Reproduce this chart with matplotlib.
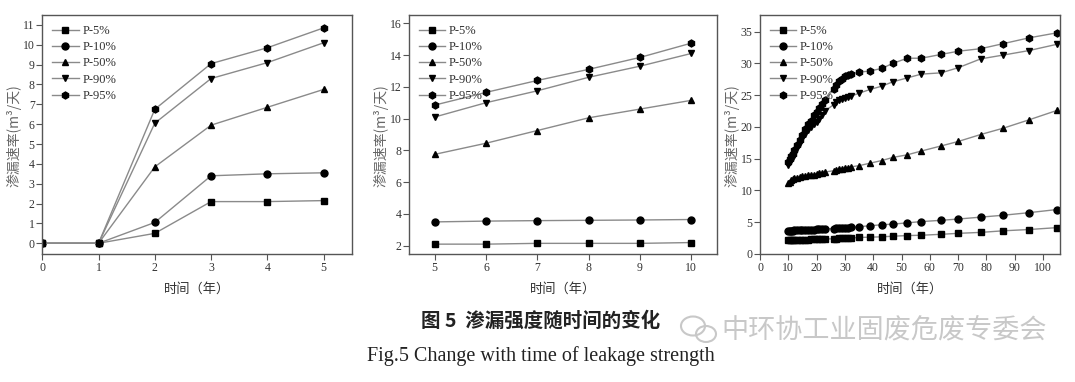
import matplotlib
matplotlib.use("Agg")
import matplotlib.pyplot as plt
from matplotlib.patches import Ellipse

plt.rcParams['font.family'] = ['Liberation Serif', 'Noto Sans CJK SC']

labels = ['P-5%', 'P-10%', 'P-50%', 'P-90%', 'P-95%']
markers = ['s', 'o', '^', 'v', 'h']

# panel 1: years 0-5
x1 = [0, 1, 2, 3, 4, 5]
p5_a = [0, 0, 0.5, 2.1, 2.1, 2.15]
p10_a = [0, 0, 1.05, 3.4, 3.5, 3.55]
p50_a = [0, 0, 3.85, 5.95, 6.85, 7.75]
p90_a = [0, 0, 6.05, 8.3, 9.1, 10.1]
p95_a = [0, 0, 6.75, 9.05, 9.85, 10.85]

# panel 2: years 5-10
x2 = [5, 6, 7, 8, 9, 10]
p5_b = [2.1, 2.1, 2.15, 2.15, 2.15, 2.2]
p10_b = [3.5, 3.55, 3.58, 3.6, 3.62, 3.65]
p50_b = [7.75, 8.45, 9.25, 10.05, 10.6, 11.15]
p90_b = [10.1, 11.0, 11.75, 12.6, 13.3, 14.1]
p95_b = [10.85, 11.65, 12.4, 13.1, 13.85, 14.75]

# panel 3: years 10-105
x3 = [10, 10.5, 11, 11.5, 12, 13, 14, 15, 16, 17, 18, 19, 20, 21, 22, 23,
      26, 27, 28, 29, 30, 31, 32, 35, 39, 43, 47, 52, 57, 64, 70, 78, 86, 95, 105]
p5_c = [2.15, 2.15, 2.15, 2.2, 2.2, 2.2, 2.2, 2.2, 2.25, 2.25, 2.3, 2.3, 2.3, 2.35, 2.35, 2.35,
        2.4, 2.4, 2.45, 2.45, 2.45, 2.5, 2.5, 2.6, 2.65, 2.7, 2.8, 2.9, 2.95, 3.1, 3.25, 3.4, 3.65, 3.85, 4.15]
p10_c = [3.6, 3.6, 3.65, 3.65, 3.7, 3.7, 3.75, 3.75, 3.8, 3.8, 3.85, 3.85, 3.9, 3.9, 3.95, 3.95,
         4.0, 4.05, 4.05, 4.1, 4.1, 4.15, 4.2, 4.3, 4.45, 4.6, 4.7, 4.9, 5.1, 5.3, 5.5, 5.8, 6.1, 6.5, 7.0]
p50_c = [11.1, 11.4, 11.6, 11.8, 11.9, 12.0, 12.1, 12.2, 12.3, 12.4, 12.5, 12.5, 12.6, 12.7, 12.8, 12.9,
         13.1, 13.2, 13.3, 13.4, 13.5, 13.6, 13.7, 13.9, 14.3, 14.7, 15.2, 15.6, 16.2, 17.0, 17.7, 18.8, 19.8, 21.1, 22.6]
p90_c = [14.0, 14.4, 14.9, 15.3, 15.8, 16.6, 17.4, 18.2, 18.9, 19.5, 20.0, 20.4, 20.8, 21.2, 21.9, 22.5,
         23.5, 23.9, 24.2, 24.4, 24.6, 24.7, 24.8, 25.3, 25.9, 26.4, 27.1, 27.7, 28.3, 28.5, 29.3, 30.7, 31.3, 32.0, 33.0]
p95_c = [14.5, 15.0, 15.4, 15.8, 16.3, 17.2, 18.0, 18.8, 19.7, 20.4, 20.9, 21.9, 22.3, 22.9, 23.6, 24.3,
         25.9, 26.6, 27.2, 27.6, 28.0, 28.2, 28.3, 28.6, 28.8, 29.2, 30.0, 30.8, 30.8, 31.4, 31.9, 32.3, 33.1, 34.0, 34.8]

fig = plt.figure(figsize=(10.75, 3.82), dpi=100)
W, H = 1075.0, 382.0

def add_panel(left, right, x, series, xlim, ylim, xticks, yticks):
    ax = fig.add_axes([left / W, 1 - 254 / H, (right - left) / W, 239 / H])
    for ys, m, lab in zip(series, markers, labels):
        ax.plot(x, ys, color='#8a8a8a', lw=1.0, marker=m, ms=5,
                mfc='black', mec='black', label=lab)
    ax.set_xlim(*xlim)
    ax.set_ylim(*ylim)
    ax.set_xticks(xticks)
    ax.set_yticks(yticks)
    for s in ax.spines.values():
        s.set_color('#555555')
        s.set_linewidth(1.0)
    ax.tick_params(direction='out', length=4, width=0.8, colors='#555555',
                   labelcolor='#333333', labelsize=8.5, pad=1.5)
    ax.set_xlabel('时间（年）', fontsize=9.5, color='#333333',
                  family=['Noto Sans CJK SC'])
    ax.xaxis.set_label_coords(0.5, -29 / 239)
    ax.set_ylabel('渗漏速率(m³/天)', fontsize=10, color='#666666',
                  family=['Noto Sans CJK SC', 'DejaVu Sans'], va='center')
    ax.yaxis.set_label_coords(-28 / (right - left), 0.494)
    ax.legend(loc='upper left', frameon=False, fontsize=9, handlelength=2.1,
              borderaxespad=0.4, labelspacing=0.34, handletextpad=0.3,
              labelcolor='#333333')
    return ax

add_panel(42.3, 351.7, x1, [p5_a, p10_a, p50_a, p90_a, p95_a],
          (0, 5.5), (-0.54, 11.5), range(0, 6), range(0, 12))
add_panel(409, 717, x2, [p5_b, p10_b, p50_b, p90_b, p95_b],
          (4.5, 10.5), (1.48, 16.52), range(5, 11), range(2, 17, 2))
add_panel(760, 1060, x3, [p5_c, p10_c, p50_c, p90_c, p95_c],
          (0, 106), (0, 37.6), range(0, 101, 10), range(0, 36, 5))

fig.text(541 / W, 1 - 321 / H, '图 5  渗漏强度随时间的变化', ha='center', va='center',
         fontsize=14, color='#222222', weight='bold', family=['Noto Sans CJK SC'])
fig.text(541 / W, 1 - 356 / H, 'Fig.5 Change with time of leakage strength', ha='center',
         va='center', fontsize=14.5, color='#222222', family=['Liberation Serif'])

# watermark
fig.text(884 / W, 1 - 330 / H, '中环协工业固废危废专委会', ha='center', va='center',
         fontsize=19.5, color='#c8c8c8', family=['Noto Sans CJK SC'])
fig.patches.append(Ellipse((693 / W, 1 - 326 / H), 24 / W, 19 / H, fill=False,
                           ec='#c8c8c8', lw=1.5, transform=fig.transFigure))
fig.patches.append(Ellipse((706 / W, 1 - 334 / H), 20 / W, 16 / H, fill=False,
                           ec='#c8c8c8', lw=1.5, transform=fig.transFigure))

fig.savefig('out.png', dpi=100)
